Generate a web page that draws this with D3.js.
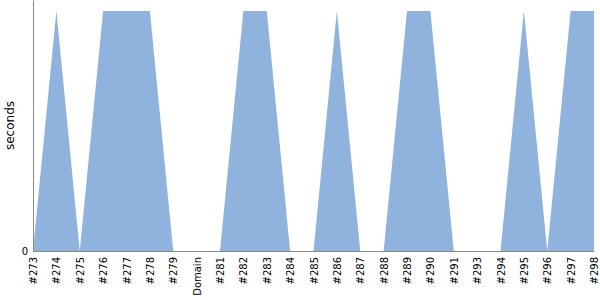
<!DOCTYPE html>
<html>
<head>
<meta charset="utf-8">
<script src="https://cdn.jsdelivr.net/npm/d3@7"></script>
<style>
  body { margin: 0; background: #fff; }
  svg { font-family: "DejaVu Sans", sans-serif; }
  .axis path { stroke: #888; }
  .axis line { display: none; }
  .axis text { fill: #000; font-size: 10px; font-family: "DejaVu Sans", sans-serif; }
</style>
</head>
<body>
<svg id="chart" width="600" height="300"></svg>
<script>
  const categories = ["#273", "#274", "#275", "#276", "#277", "#278", "#279", "Domain", "#281",
    "#282", "#283", "#284", "#285", "#286", "#287", "#288", "#289", "#290", "#291", "#293",
    "#294", "#295", "#296", "#297", "#298"];
  const seconds = [0, 1, 0, 1, 1, 1, 0, 0, 0, 1, 1, 0, 0, 1, 0, 0, 1, 1, 0, 0, 0, 1, 0, 1, 1];
  const yTicks = [0];

  const svg = d3.select("#chart");
  const margin = { top: 0, right: 6, bottom: 49, left: 33 };
  const W = 600 - margin.left - margin.right;
  const H = 300 - margin.top - margin.bottom;

  const g = svg.append("g").attr("transform", `translate(${margin.left},${margin.top})`);

  const x = d3.scalePoint().domain(categories).range([0, W]);
  const y = d3.scaleLinear().domain([0, d3.max(seconds) * 1.046]).range([H, 0]);

  const data = categories.map((c, i) => ({ c, v: seconds[i] }));

  g.append("path")
    .datum(data)
    .attr("fill", "#8fb3dd")
    .attr("d", d3.area().x(d => x(d.c)).y0(H).y1(d => y(d.v)));

  g.append("g")
    .attr("class", "axis")
    .attr("transform", `translate(0,${H})`)
    .call(d3.axisBottom(x).tickSize(0).tickSizeOuter(0))
    .selectAll("text")
    .attr("transform", "rotate(-90)")
    .attr("text-anchor", "end")
    .attr("dx", "-6px")
    .attr("dy", "0.35em")
    .attr("x", 0)
    .attr("y", 0);

  g.append("g")
    .attr("class", "axis")
    .call(d3.axisLeft(y).tickValues(yTicks).tickFormat(d3.format("d")).tickSize(0).tickSizeOuter(0).tickPadding(5));

  g.append("text")
    .attr("transform", `translate(${-19},${H / 2}) rotate(-90)`)
    .attr("text-anchor", "middle")
    .style("font-size", "12px")
    .style("font-family", "DejaVu Sans, sans-serif")
    .text("seconds");
</script>
</body>
</html>
